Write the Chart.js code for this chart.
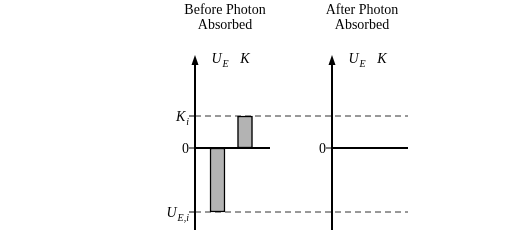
<!DOCTYPE html>
<html>
<head>
<meta charset="utf-8">
<script src="https://cdn.jsdelivr.net/npm/chart.js@4.4.0/dist/chart.umd.min.js"></script>
<style>
html, body { margin: 0; padding: 0; background: #fff; }
#wrap { width: 514px; height: 240px; }
</style>
</head>
<body>
<div id="wrap"><canvas id="energyChart" width="514" height="240"></canvas></div>
<script>
// energies in units of K_i
var categories = ["U_E", "K"];
var beforeValues = [-2, 1];
var afterValues = [0, 0];
var panelTitles = [["Before Photon", "Absorbed"], ["After Photon", "Absorbed"]];
var tickValues = [1, 0, -2];
var tickLabels = [["K", "i"], ["0", ""], ["U", "E,i"]];

// layout (x units, roughly 25px each)
var panelX = [0, 5.48];
var barOffset = [0.9, 2.0];
var zeroEnd = [3.0, 8.52];
var xMax = 8.52;

var serif = '"Liberation Serif", "DejaVu Serif", serif';

function pts(panel, vals) {
    return vals.map(function (v, i) { return { x: panelX[panel] + barOffset[i], y: v }; });
}

function drawSub(ctx, main, sub, x, y, align, italicMain) {
    ctx.font = (italicMain ? 'italic ' : '') + '14px ' + serif;
    var w1 = ctx.measureText(main).width;
    ctx.font = 'italic 10px ' + serif;
    var w2 = sub ? ctx.measureText(sub).width + 1 : 0;
    var start = x;
    if (align === 'right') start = x - w1 - w2;
    if (align === 'center') start = x - (w1 + w2) / 2;
    ctx.textAlign = 'left';
    ctx.textBaseline = 'alphabetic';
    ctx.font = (italicMain ? 'italic ' : '') + '14px ' + serif;
    ctx.fillText(main, start, y);
    if (sub) {
        ctx.font = 'italic 10px ' + serif;
        ctx.fillText(sub, start + w1 + 1, y + 4);
    }
}

var decor = {
    id: 'decor',
    afterDraw: function (chart) {
        var ctx = chart.ctx;
        var xs = chart.scales.x, ys = chart.scales.y;
        var top = ys.getPixelForValue(ys.max);
        var bottom = ys.getPixelForValue(ys.min);
        ctx.save();
        ctx.fillStyle = '#000';
        ctx.strokeStyle = '#000';
        for (var p = 0; p < 2; p++) {
            var ax = Math.round(xs.getPixelForValue(panelX[p]));
            // vertical axis
            ctx.lineWidth = 2;
            ctx.beginPath();
            ctx.moveTo(ax, top + 6);
            ctx.lineTo(ax, bottom);
            ctx.stroke();
            ctx.beginPath();
            ctx.moveTo(ax, top - 1);
            ctx.lineTo(ax - 3.5, top + 9);
            ctx.lineTo(ax + 3.5, top + 9);
            ctx.closePath();
            ctx.fill();
            // ticks + labels
            tickValues.forEach(function (t, i) {
                if (p === 1 && t !== 0) return;
                var ty = ys.getPixelForValue(t);
                ctx.lineWidth = 1;
                ctx.beginPath();
                ctx.moveTo(ax - 6, ty);
                ctx.lineTo(ax, ty);
                ctx.stroke();
                drawSub(ctx, tickLabels[i][0], tickLabels[i][1], ax - 6, ty + 5, 'right', t !== 0);
            });
            // column labels
            categories.forEach(function (c, i) {
                var bx = xs.getPixelForValue(panelX[p] + barOffset[i]);
                var parts = c.split('_');
                if (parts[1]) drawSub(ctx, parts[0], parts[1], bx - 6, 63, 'left', true);
                else drawSub(ctx, parts[0], '', bx, 63, 'center', true);
            });
            // titles
            var cx = ax + 30;
            ctx.font = '14px ' + serif;
            ctx.textAlign = 'center';
            ctx.textBaseline = 'alphabetic';
            ctx.fillText(panelTitles[p][0], cx, 14);
            ctx.fillText(panelTitles[p][1], cx, 29);
        }
        ctx.restore();
    }
};

var ctx = document.getElementById('energyChart').getContext('2d');
var chart = new Chart(ctx, {
    type: 'bar',
    data: {
        datasets: [
            {
                type: 'line', order: 3,
                data: [{ x: 0, y: tickValues[0] }, { x: xMax, y: tickValues[0] }],
                borderColor: '#333', borderWidth: 1, borderDash: [6, 4], pointRadius: 0
            },
            {
                type: 'line', order: 3,
                data: [{ x: 0, y: tickValues[2] }, { x: xMax, y: tickValues[2] }],
                borderColor: '#333', borderWidth: 1, borderDash: [6, 4], pointRadius: 0
            },
            {
                type: 'bar', order: 2,
                data: pts(0, beforeValues).concat(pts(1, afterValues)),
                backgroundColor: '#b3b3b3', borderColor: '#000', borderWidth: 1.5,
                borderSkipped: false, barThickness: 15
            },
            {
                type: 'line', order: 1,
                data: [{ x: panelX[0], y: 0 }, { x: zeroEnd[0], y: 0 }],
                borderColor: '#000', borderWidth: 2, pointRadius: 0
            },
            {
                type: 'line', order: 1,
                data: [{ x: panelX[1], y: 0 }, { x: zeroEnd[1], y: 0 }],
                borderColor: '#000', borderWidth: 2, pointRadius: 0
            }
        ]
    },
    options: {
        responsive: false,
        animation: false,
        devicePixelRatio: 1,
        layout: { padding: { left: 195, right: 106, top: 56, bottom: 10 } },
        plugins: { legend: { display: false }, tooltip: { enabled: false } },
        scales: {
            x: { type: 'linear', min: 0, max: xMax, display: false, offset: false },
            y: { min: -2.5625, max: 2.875, display: false }
        }
    },
    plugins: [decor]
});
</script>
</body>
</html>
